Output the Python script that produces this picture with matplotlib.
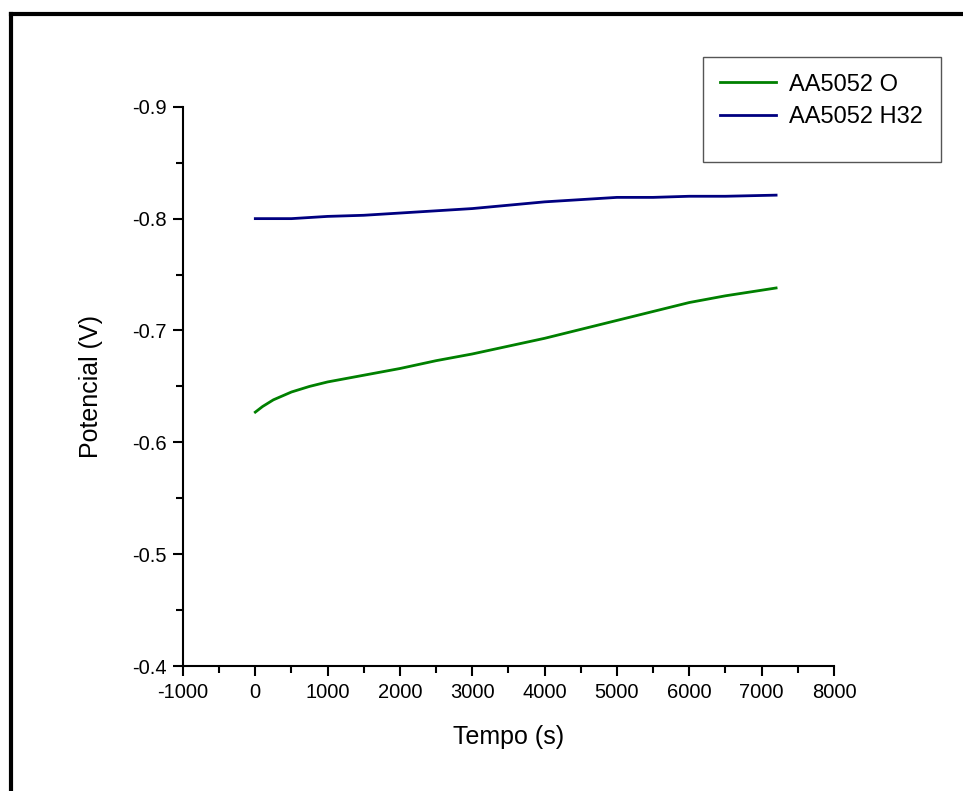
import matplotlib.pyplot as plt
from matplotlib.lines import Line2D
from matplotlib.patches import Rectangle
from matplotlib.ticker import MultipleLocator

plt.rcParams['font.family'] = ['Liberation Sans', 'DejaVu Sans']
plt.rcParams['axes.unicode_minus'] = False

# tempo (s) e potencial (V)
tempo_o = [0, 100, 250, 500, 750, 1000, 1500, 2000, 2500, 3000, 3500,
           4000, 4500, 5000, 5500, 6000, 6500, 7000, 7200]
pot_o = [-0.627, -0.632, -0.638, -0.645, -0.650, -0.654, -0.660, -0.666,
         -0.673, -0.679, -0.686, -0.693, -0.701, -0.709, -0.717, -0.725,
         -0.731, -0.736, -0.738]

tempo_h32 = [0, 500, 1000, 1500, 2000, 2500, 3000, 3500, 4000, 4500,
             5000, 5500, 6000, 6500, 7200]
pot_h32 = [-0.800, -0.800, -0.802, -0.803, -0.805, -0.807, -0.809, -0.812,
           -0.815, -0.817, -0.819, -0.819, -0.820, -0.820, -0.821]

fig = plt.figure(figsize=(9.63, 7.91), dpi=100)
ax = fig.add_axes([0.190, 0.158, 0.676, 0.707])

ax.plot(tempo_o, pot_o, color='#008000', lw=2, label='AA5052 O')
ax.plot(tempo_h32, pot_h32, color='#000080', lw=2, label='AA5052 H32')

ax.set_xlim(-1000, 8000)
ax.set_ylim(-0.4, -0.9)
ax.xaxis.set_major_locator(MultipleLocator(1000))
ax.xaxis.set_minor_locator(MultipleLocator(500))
ax.yaxis.set_major_locator(MultipleLocator(0.1))
ax.yaxis.set_minor_locator(MultipleLocator(0.05))
ax.yaxis.set_major_formatter(plt.FuncFormatter(lambda v, p: f'{v:.1f}'))

for s in ['top', 'right']:
    ax.spines[s].set_visible(False)
for s in ['left', 'bottom']:
    ax.spines[s].set_linewidth(1.5)
ax.tick_params(which='major', direction='out', length=7, width=1.5,
               labelsize=14.5, pad=5)
ax.tick_params(which='minor', direction='out', length=5, width=1.5)

ax.set_xlabel('Tempo (s)', fontsize=18, labelpad=17)
ax.set_ylabel('Potencial (V)', fontsize=18, labelpad=21)

# legenda sem moldura; a caixa (mais alta, estilo Origin) vai à parte
fig.legend(loc='upper left', bbox_to_anchor=(703 / 963, 1 - 57 / 791),
           borderaxespad=0, fontsize=17, handlelength=2.4,
           handletextpad=0.55, labelspacing=0.45, borderpad=0.7,
           frameon=False)
fig.add_artist(Rectangle((703 / 963, 1 - 162 / 791), 238 / 963, 105 / 791,
                         transform=fig.transFigure, facecolor='none',
                         edgecolor='#555555', lw=1.0))

# moldura preta (topo e esquerda)
fig.add_artist(Line2D([11 / 963, 1], [1 - 14 / 791, 1 - 14 / 791],
                      color='black', lw=3, transform=fig.transFigure,
                      solid_capstyle='projecting'))
fig.add_artist(Line2D([11 / 963, 11 / 963], [1 - 14 / 791, 0],
                      color='black', lw=3, transform=fig.transFigure,
                      solid_capstyle='projecting'))

fig.savefig('out.png', dpi=100)
